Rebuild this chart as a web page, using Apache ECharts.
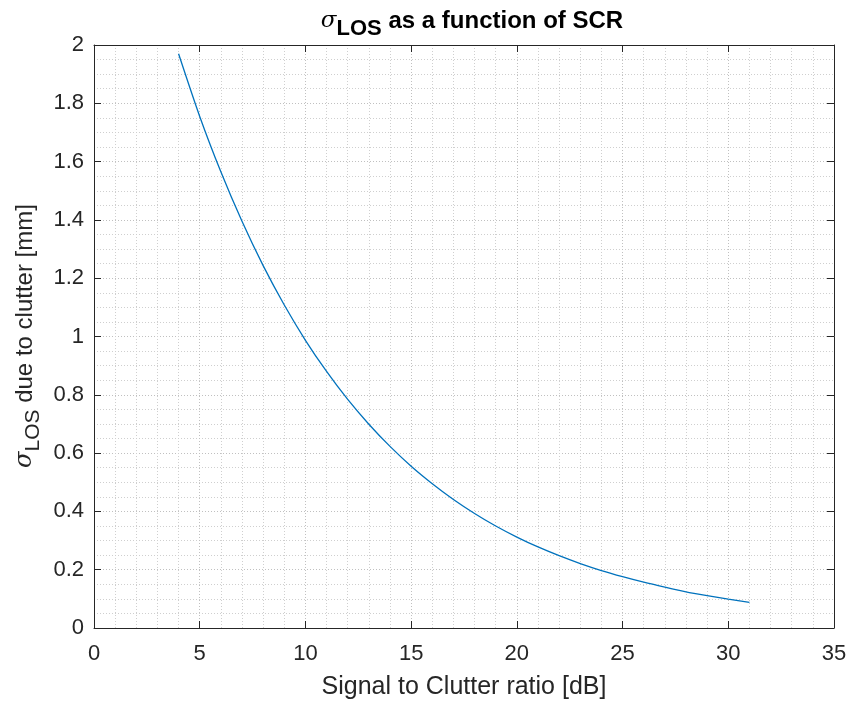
<!DOCTYPE html>
<html>
<head>
<meta charset="utf-8">
<script src="https://cdn.jsdelivr.net/npm/echarts@6/dist/echarts.min.js"></script>
<style>html,body{margin:0;padding:0;background:#fff;}#c{width:850px;height:702px;}</style>
</head>
<body>
<div id="c"></div>
<script>
const scr = [4,5,6,7,8,9,10,11,12,13,14,15,16,17,18,19,20,21,22,23,24,25,26,27,28,29,30,31];
const sigmaLOS = [1.97,1.755,1.565,1.395,1.243,1.108,0.987,0.88,0.784,0.699,0.623,0.555,0.495,0.441,0.393,0.35,0.312,0.278,0.248,0.221,0.197,0.176,0.157,0.14,0.124,0.111,0.099,0.088];
const xTicks = [0,5,10,15,20,25,30,35];
const yTicks = [0,0.2,0.4,0.6,0.8,1,1.2,1.4,1.6,1.8,2];

const FONT = '"Liberation Sans", Arial, Helvetica, sans-serif';
const TXT = '#262626';
const chart = echarts.init(document.getElementById('c'), null, {renderer:'canvas'});

function baseAxis(extra){
  return Object.assign({
    axisLine:{show:true,onZero:false,lineStyle:{color:TXT,width:1}},
    axisTick:{show:true,inside:true,length:7,lineStyle:{color:TXT,width:1}},
    minorTick:{show:false},
  }, extra);
}

chart.setOption({
  animation:false,
  backgroundColor:'#fff',
  grid:{left:94,right:16,top:45,bottom:74,containLabel:false,outerBoundsMode:'none'},
  title:{
    text:'{s|σ}{sub|LOS}{b| as a function of SCR}',
    left:467, textAlign:'center', top:-3,
    textStyle:{
      fontFamily:FONT,
      rich:{
        s:{fontFamily:'"DejaVu Serif", serif',fontStyle:'italic',fontWeight:'normal',fontSize:23,color:'#000'},
        sub:{fontFamily:FONT,fontWeight:'bold',fontSize:22,color:'#000',padding:[16,0,0,0]},
        b:{fontFamily:FONT,fontWeight:'bold',fontSize:24,color:'#000'}
      }
    }
  },
  xAxis:[
    baseAxis({type:'value',min:0,max:35,interval:5,position:'bottom',
      axisLabel:{show:true,margin:15,fontFamily:FONT,fontSize:22,color:TXT,
        formatter:v=>xTicks.indexOf(v)>=0?String(v):''},
      splitLine:{show:true,lineStyle:{color:'#c0c0c0',type:[1,2],width:1}},
      minorTick:{show:false,splitNumber:5},
      minorSplitLine:{show:true,lineStyle:{color:'#cfcfcf',type:[1,2],width:1}},
      name:'Signal to Clutter ratio [dB]',nameLocation:'middle',nameGap:47,
      nameTextStyle:{fontFamily:FONT,fontSize:25,color:TXT}}),
    baseAxis({type:'value',min:0,max:35,interval:5,position:'top',
      axisLabel:{show:false},splitLine:{show:false}})
  ],
  yAxis:[
    baseAxis({type:'value',min:0,max:2,interval:0.2,position:'left',
      axisLabel:{show:true,margin:10,fontFamily:FONT,fontSize:22,color:TXT,
        formatter:v=>{const r=Math.round(v*10)/10;return yTicks.indexOf(r)>=0?String(r):'';}},
      splitLine:{show:true,lineStyle:{color:'#c0c0c0',type:[1,2],width:1}},
      minorTick:{show:false,splitNumber:4},
      minorSplitLine:{show:true,lineStyle:{color:'#cfcfcf',type:[1,2],width:1}}}),
    baseAxis({type:'value',min:0,max:2,interval:0.2,position:'right',
      axisLabel:{show:false},splitLine:{show:false}})
  ],
  graphic:[{
    type:'text',
    x:25, y:336,
    rotation:Math.PI/2,
    style:{
      text:'{s|σ}{sub|LOS}{t| due to clutter [mm]}',
      align:'center', verticalAlign:'middle',
      rich:{
        s:{fontFamily:'"DejaVu Serif", serif',fontStyle:'italic',fontSize:24,fill:TXT},
        sub:{fontFamily:FONT,fontSize:21,fill:TXT,padding:[16,0,0,0]},
        t:{fontFamily:FONT,fontSize:24,fill:TXT}
      }
    }
  }],
  series:[{
    type:'line',
    xAxisIndex:0,yAxisIndex:0,
    data:scr.map((x,i)=>[x,sigmaLOS[i]]),
    showSymbol:false,
    smooth:0.25,
    lineStyle:{color:'#0072BD',width:1.3},
    clip:true
  }]
});
</script>
</body>
</html>
